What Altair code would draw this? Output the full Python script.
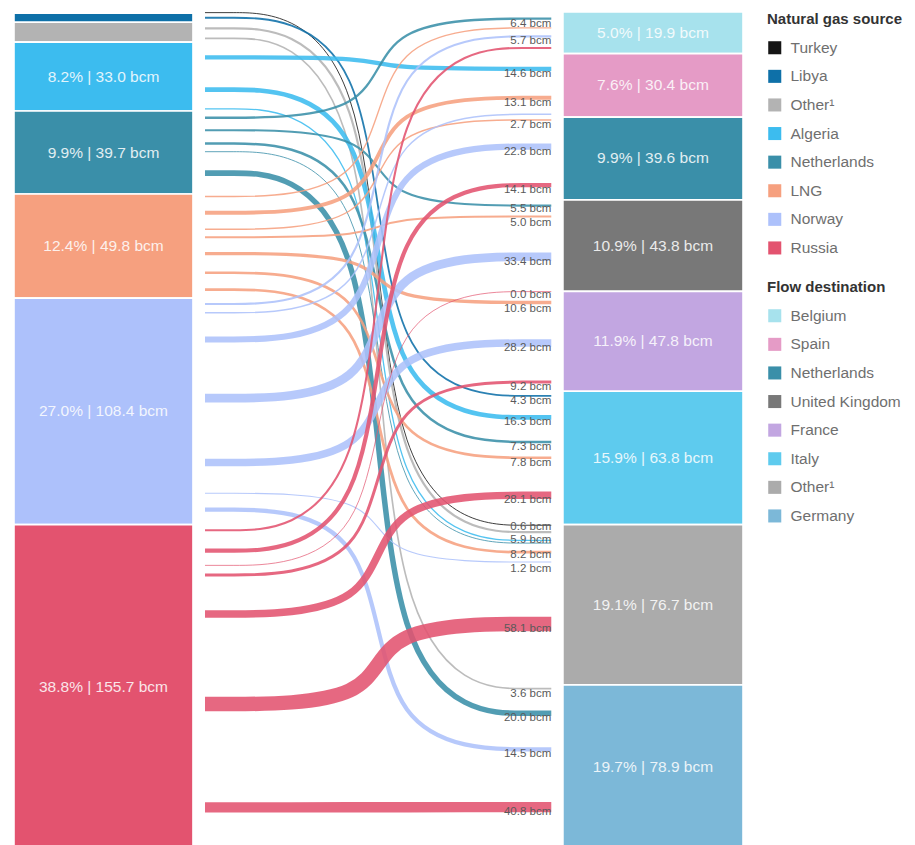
import altair as alt
import pandas as pd

# ---------------- data ----------------
sources = ["Turkey", "Libya", "Other¹", "Algeria", "Netherlands", "LNG", "Norway", "Russia"]
source_bcm = [0.6, 4.3, 9.5, 33.0, 39.7, 49.8, 108.4, 155.7]
source_share = [0.1, 1.1, 2.4, 8.2, 9.9, 12.4, 27.0, 38.8]
source_colors = ["#151515", "#0e70a8", "#b3b3b3", "#3cbcef", "#3a8fa9", "#f6a07f", "#adc1fb", "#e3536f"]

destinations = ["Belgium", "Spain", "Netherlands", "United Kingdom", "France", "Italy", "Other¹", "Germany"]
dest_bcm = [19.9, 30.4, 39.6, 43.8, 47.8, 63.8, 76.7, 78.9]
dest_share = [5.0, 7.6, 9.9, 10.9, 11.9, 15.9, 19.1, 19.7]
dest_colors = ["#a7e2ed", "#e59bc6", "#3a8fa9", "#787878", "#c2a6e1", "#5ecbee", "#ababab", "#7cb8d8"]

flow_source = ["Turkey", "Libya", "Other¹", "Other¹",
               "Algeria", "Algeria", "Algeria",
               "Netherlands", "Netherlands", "Netherlands", "Netherlands", "Netherlands",
               "LNG", "LNG", "LNG", "LNG", "LNG", "LNG", "LNG",
               "Norway", "Norway", "Norway", "Norway", "Norway", "Norway", "Norway",
               "Russia", "Russia", "Russia", "Russia", "Russia", "Russia", "Russia"]
flow_dest = ["Other¹", "Italy", "Other¹", "Germany",
             "Spain", "Italy", "Other¹",
             "Belgium", "United Kingdom", "Italy", "Other¹", "Germany",
             "Belgium", "Spain", "Netherlands", "United Kingdom", "France", "Italy", "Other¹",
             "Belgium", "Spain", "Netherlands", "United Kingdom", "France", "Other¹", "Germany",
             "Belgium", "Netherlands", "United Kingdom", "France", "Italy", "Other¹", "Germany"]
flow_bcm = [0.6, 4.3, 5.9, 3.6,
            14.6, 16.3, 2.1,
            6.4, 5.5, 7.3, 0.5, 20.0,
            2.4, 13.1, 2.7, 5.0, 10.6, 7.8, 8.2,
            5.7, 2.7, 22.8, 33.4, 28.2, 1.2, 14.5,
            5.4, 14.1, 0.0, 9.2, 28.1, 58.1, 40.8]
flow_labelled = [1, 1, 1, 1,
                 1, 1, 0,
                 1, 1, 1, 0, 1,
                 0, 1, 1, 1, 1, 1, 1,
                 1, 0, 1, 1, 1, 1, 1,
                 0, 1, 1, 1, 1, 1, 1]

# ---------------- layout (scale units) ----------------
LEFT_X = (0.0, 24.55)
FLOW_X = (26.2, 73.7)
RIGHT_X = (75.3, 100.0)
Y_MAX = 401.0
PLOT_W, PLOT_H = 729, 838
PX_PER_BCM = PLOT_H / Y_MAX
LABEL_DY = 5.0 / PX_PER_BCM        # label sits a little below its line end
LABEL_SPACING = 13.5 / PX_PER_BCM  # minimum distance between labels


def starts(vals):
    out, c = [], 0.0
    for v in vals:
        out.append(c)
        c += v
    return out


src_start = dict(zip(sources, starts(source_bcm)))
dst_start = dict(zip(destinations, starts(dest_bcm)))
src_idx = {s: i for i, s in enumerate(sources)}
dst_idx = {d: i for i, d in enumerate(destinations)}

n = len(flow_bcm)
left_mid, right_mid = [0.0] * n, [0.0] * n
off = {s: 0.0 for s in sources}
for i in sorted(range(n), key=lambda i: (src_idx[flow_source[i]], dst_idx[flow_dest[i]])):
    s = flow_source[i]
    left_mid[i] = src_start[s] + off[s] + flow_bcm[i] / 2
    off[s] += flow_bcm[i]
off = {d: 0.0 for d in destinations}
for i in sorted(range(n), key=lambda i: (dst_idx[flow_dest[i]], src_idx[flow_source[i]])):
    d = flow_dest[i]
    right_mid[i] = dst_start[d] + off[d] + flow_bcm[i] / 2
    off[d] += flow_bcm[i]

xm = (FLOW_X[0] + FLOW_X[1]) / 2
rows = []
for i in range(n):
    pts = [(FLOW_X[0], left_mid[i]), (xm, left_mid[i]), (xm, right_mid[i]), (FLOW_X[1], right_mid[i])]
    for k, (x, y) in enumerate(pts):
        rows.append({"fid": i, "k": k, "x": x, "y": y, "src": flow_source[i], "bcm": flow_bcm[i]})
flow_df = pd.DataFrame(rows)

# flow value labels: below each line end, spread apart so they do not collide
lab_ids = sorted([i for i in range(n) if flow_labelled[i]], key=lambda i: right_mid[i])
lab_y = [right_mid[i] + LABEL_DY for i in lab_ids]
for _ in range(300):
    moved = False
    for j in range(1, len(lab_y)):
        gap = lab_y[j] - lab_y[j - 1]
        if gap < LABEL_SPACING - 1e-6:
            d = (LABEL_SPACING - gap) / 2
            lab_y[j - 1] -= d
            lab_y[j] += d
            moved = True
    if not moved:
        break
label_df = pd.DataFrame({
    "x": [FLOW_X[1]] * len(lab_ids),
    "y": lab_y,
    "text": [f"{flow_bcm[i]:.1f} bcm" for i in lab_ids],
})

left_df = pd.DataFrame({
    "src": sources,
    "x0": [LEFT_X[0]] * 8, "x1": [LEFT_X[1]] * 8,
    "y0": [src_start[s] for s in sources],
    "y1": [src_start[s] + v for s, v in zip(sources, source_bcm)],
    "bcm": source_bcm,
    "text": [f"{p:.1f}% | {v:.1f} bcm" for p, v in zip(source_share, source_bcm)],
})
left_df["xm"] = (left_df.x0 + left_df.x1) / 2
left_df["ym"] = (left_df.y0 + left_df.y1) / 2
left_lab = left_df[left_df.bcm >= 20]

right_df = pd.DataFrame({
    "dst": destinations,
    "x0": [RIGHT_X[0]] * 8, "x1": [RIGHT_X[1]] * 8,
    "y0": [dst_start[d] for d in destinations],
    "y1": [dst_start[d] + v for d, v in zip(destinations, dest_bcm)],
    "text": [f"{p:.1f}% | {v:.1f} bcm" for p, v in zip(dest_share, dest_bcm)],
})
right_df["xm"] = (right_df.x0 + right_df.x1) / 2
right_df["ym"] = (right_df.y0 + right_df.y1) / 2

# ---------------- chart ----------------
FONT = "Liberation Sans"
xs = alt.Scale(domain=[0, 100], nice=False, zero=False)
ys = alt.Scale(domain=[0, Y_MAX], reverse=True, nice=False, zero=False)

legend_common = dict(orient="none", symbolType="square", symbolSize=170,
                     symbolStrokeWidth=0, symbolOpacity=1, labelFontSize=15.5, labelColor="#6f6f6f",
                     titleFontSize=15, titleFontWeight="bold", titleColor="#333",
                     rowPadding=11.6, titlePadding=13, labelFont=FONT, titleFont=FONT,
                     labelOffset=8, padding=0)

src_color = alt.Color("src:N", scale=alt.Scale(domain=sources, range=source_colors),
                      sort=sources,
                      legend=alt.Legend(title="Natural gas source", legendX=753, legendY=0, **legend_common))

left_bars = alt.Chart(left_df).mark_rect(stroke="white", strokeWidth=1.6).encode(
    x=alt.X("x0:Q", scale=xs, axis=None), x2="x1:Q",
    y=alt.Y("y0:Q", scale=ys, axis=None), y2="y1:Q",
    color=src_color,
)
left_text = alt.Chart(left_lab).mark_text(color="white", fontSize=15.5, font=FONT, opacity=0.85).encode(
    x=alt.X("xm:Q", scale=xs, axis=None), y=alt.Y("ym:Q", scale=ys, axis=None), text="text:N")

right_bars = alt.Chart(right_df).mark_rect(stroke="white", strokeWidth=1.6).encode(
    x=alt.X("x0:Q", scale=xs, axis=None), x2="x1:Q",
    y=alt.Y("y0:Q", scale=ys, axis=None), y2="y1:Q",
    fill=alt.Fill("dst:N", scale=alt.Scale(domain=destinations, range=dest_colors), sort=destinations,
                  legend=alt.Legend(title="Flow destination", legendX=753, legendY=268, **legend_common)),
)
right_text = alt.Chart(right_df).mark_text(color="white", fontSize=15.5, font=FONT, opacity=0.85).encode(
    x=alt.X("xm:Q", scale=xs, axis=None), y=alt.Y("ym:Q", scale=ys, axis=None), text="text:N")

lines = alt.Chart(flow_df).mark_line(interpolate="basis", strokeCap="butt", strokeJoin="round",
                                     opacity=0.88).encode(
    x=alt.X("x:Q", scale=xs, axis=None),
    y=alt.Y("y:Q", scale=ys, axis=None),
    detail="fid:N",
    order="k:Q",
    color=src_color,
    strokeWidth=alt.StrokeWidth("bcm:Q", scale=alt.Scale(domain=[0, 58.1], range=[0.8, 14.5]), legend=None),
)

flow_labels = alt.Chart(label_df).mark_text(align="right", baseline="middle", fontSize=11.5,
                                            color="#5a5a5a", font=FONT).encode(
    x=alt.X("x:Q", scale=xs, axis=None), y=alt.Y("y:Q", scale=ys, axis=None), text="text:N")

chart = alt.layer(left_bars, right_bars, lines, left_text, right_text, flow_labels).properties(
    width=PLOT_W, height=PLOT_H,
    autosize=alt.AutoSizeParams(type="none"),
    padding={"left": 6, "top": 4, "right": 163, "bottom": 0},
).configure(font=FONT).configure_view(stroke=None)

chart.save("out.html", embed_options={"renderer": "svg", "actions": False})
